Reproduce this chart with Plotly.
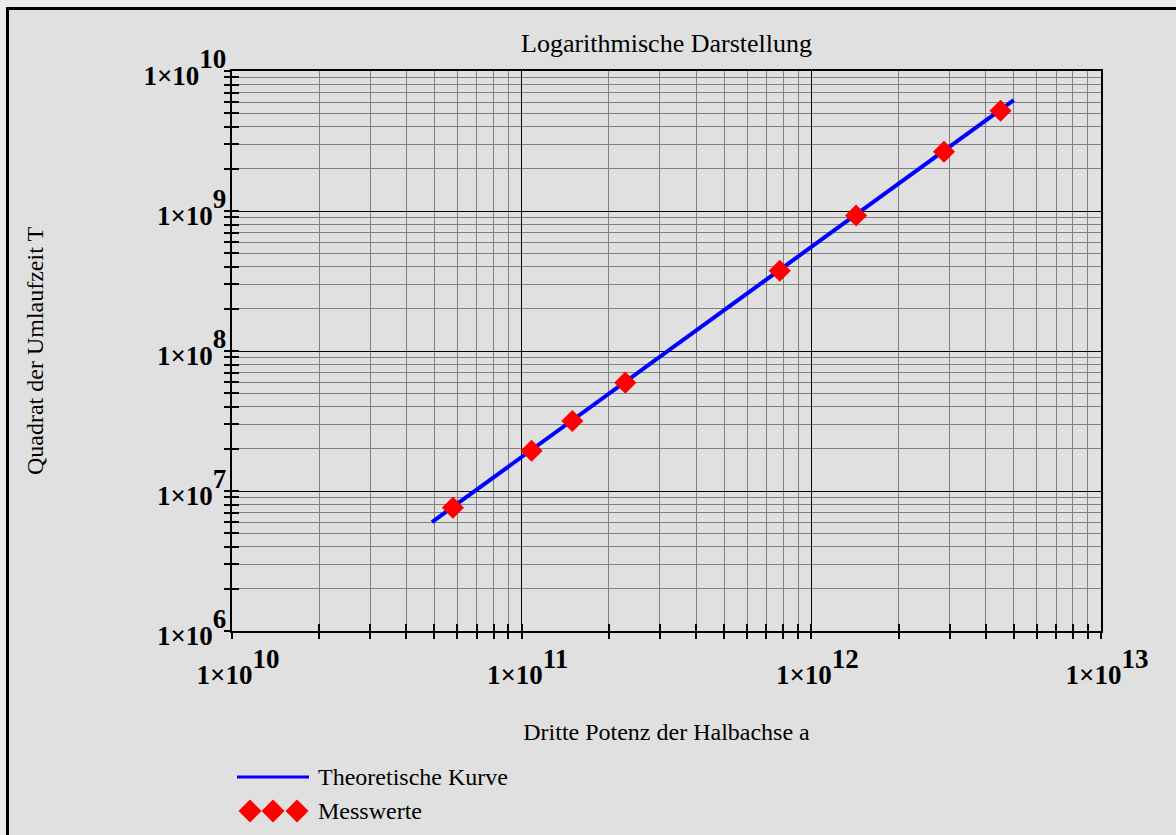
import plotly.graph_objects as go

# Große Halbachse a [m] und Umlaufzeit T [s] der Planeten (Messwerte)
a_mess = [5.79e10, 1.082e11, 1.496e11, 2.279e11, 7.78e11, 1.427e12, 2.87e12, 4.50e12]
T_mess = [7.60e6, 1.94e7, 3.16e7, 5.94e7, 3.74e8, 9.29e8, 2.65e9, 5.20e9]

# Theoretische Kurve (Gerade im doppelt-logarithmischen Diagramm): Endpunkte
a_theo = [4.9e10, 5.0e12]
T_theo = [6.0e6, 6.2e9]

# Achsenbeschriftung (Mantisse und Exponent)
x_ticks = [1e10, 1e11, 1e12, 1e13]
x_exp = ["10", "11", "12", "13"]
y_ticks = [1e6, 1e7, 1e8, 1e9, 1e10]
y_exp = ["6", "7", "8", "9", "10"]
x_minor = [k * 10.0 ** e for e in range(10, 13) for k in range(2, 10)]
y_minor = [k * 10.0 ** e for e in range(6, 10) for k in range(2, 10)]

FONT = "Liberation Serif"
BG = "#e0e0e0"
TICK_PX = 27  # Schriftgröße von Mantisse und Exponent


def power_label(exp):
    # Exponent in gleicher Größe wie die Mantisse, hochgestellt
    return f'<span style="font-size:{TICK_PX}px">1×10</span><sup>{exp}</sup>'


x_ticktext = [power_label(e) for e in x_exp]
y_ticktext = [power_label(e) for e in y_exp]

# Plotbereich in Pixeln
W, H = 1176, 835
L, R, T, B = 232, 1101, 71, 631
PW, PH = R - L, B - T


def px(xp):
    return (xp - L) / PW


def py(yp):
    return (B - yp) / PH


fig = go.Figure()

fig.add_trace(go.Scatter(
    x=a_theo, y=T_theo, mode="lines",
    line=dict(color="#0000ff", width=4),
    name="Theoretische Kurve", showlegend=False,
))
fig.add_trace(go.Scatter(
    x=a_mess, y=T_mess, mode="markers",
    marker=dict(symbol="diamond", size=17, color="#ff0000", line=dict(width=0)),
    name="Messwerte", showlegend=False,
))
# leere Spur für die zweite (überlagerte) Achse mit den äußeren Tickstrichen
fig.add_trace(go.Scatter(x=[], y=[], xaxis="x2", yaxis="y2", showlegend=False))

tick_font = dict(family=FONT, size=TICK_PX / 0.7, color="black", weight="bold")
label_font = dict(family=FONT, size=24, color="black")

common = dict(
    type="log", showline=True, linecolor="black", linewidth=2, mirror=True,
    ticks="inside", ticklen=7, tickwidth=2, tickcolor="black",
    showgrid=True, gridcolor="#000000", gridwidth=1,
    tickfont=tick_font, automargin=False, zeroline=False,
)

fig.update_layout(
    width=W, height=H,
    margin=dict(l=L, r=W - R, t=T, b=H - B, autoexpand=False),
    paper_bgcolor=BG, plot_bgcolor=BG,
    showlegend=False,
    title=dict(
        text="Logarithmische Darstellung",
        font=dict(family=FONT, size=26, color="black"),
        x=0.5, xref="paper", xanchor="center",
        y=1 - 43 / H, yref="container", yanchor="middle",
    ),
    xaxis=dict(
        **common, range=[10, 13],
        tickvals=x_ticks, ticktext=x_ticktext,
        ticklabelstandoff=5, ticklabelshift=6,
        minor=dict(tickvals=x_minor, ticks="inside", ticklen=7, tickwidth=2,
                   tickcolor="black", showgrid=True, gridcolor="#808080", gridwidth=1),
        title=dict(text="Dritte Potenz der Halbachse a", font=label_font, standoff=34),
    ),
    yaxis=dict(
        **common, range=[6, 10],
        tickvals=y_ticks, ticktext=y_ticktext, ticklabelstandoff=-4,
        minor=dict(tickvals=y_minor, ticks="inside", ticklen=7, tickwidth=2,
                   tickcolor="black", showgrid=True, gridcolor="#808080", gridwidth=1),
        title=dict(text="Quadrat der Umlaufzeit T", font=label_font, standoff=93),
    ),
    xaxis2=dict(
        type="log", range=[10, 13], overlaying="x", anchor="y2", side="bottom",
        showline=False, showgrid=False, zeroline=False, showticklabels=False,
        tickvals=x_ticks, ticks="outside", ticklen=7, tickwidth=2, tickcolor="black",
        minor=dict(tickvals=x_minor, ticks="outside", ticklen=7, tickwidth=2,
                   tickcolor="black", showgrid=False),
        automargin=False,
    ),
    yaxis2=dict(
        type="log", range=[6, 10], overlaying="y", anchor="x2", side="left",
        showline=False, showgrid=False, zeroline=False, showticklabels=False,
        tickvals=y_ticks, ticks="outside", ticklen=7, tickwidth=2, tickcolor="black",
        minor=dict(tickvals=y_minor, ticks="outside", ticklen=7, tickwidth=2,
                   tickcolor="black", showgrid=False),
        automargin=False,
    ),
)

shapes = []
# heller Rand außerhalb des Rahmens
shapes.append(dict(type="rect", xref="paper", yref="paper", layer="below",
                   x0=px(0), x1=px(W), y0=py(0), y1=py(7),
                   fillcolor="#ececec", line=dict(width=0)))
shapes.append(dict(type="rect", xref="paper", yref="paper", layer="below",
                   x0=px(0), x1=px(6), y0=py(0), y1=py(H),
                   fillcolor="#ececec", line=dict(width=0)))
# schwarzer Rahmen oben und links
shapes.append(dict(type="line", xref="paper", yref="paper",
                   x0=px(6), x1=px(W), y0=py(8.5), y1=py(8.5),
                   line=dict(color="black", width=3)))
shapes.append(dict(type="line", xref="paper", yref="paper",
                   x0=px(7.5), x1=px(7.5), y0=py(7), y1=py(H),
                   line=dict(color="black", width=3)))

# Legende: Linienmuster
shapes.append(dict(type="line", xref="paper", yref="paper",
                   x0=px(237), x1=px(309), y0=py(777), y1=py(777),
                   line=dict(color="#0000ff", width=3)))
# Legende: drei Rauten
for cx in (250, 273, 297):
    shapes.append(dict(type="path", xref="paper", yref="paper",
                       xsizemode="pixel", ysizemode="pixel",
                       xanchor=px(cx), yanchor=py(811),
                       path="M0,11.5 L11.5,0 L0,-11.5 L-11.5,0 Z",
                       fillcolor="#ff0000", line=dict(width=0)))
fig.update_layout(shapes=shapes)

fig.add_annotation(text="Theoretische Kurve", xref="paper", yref="paper",
                   x=px(316), y=py(777), xanchor="left", yanchor="middle",
                   showarrow=False, font=label_font)
fig.add_annotation(text="Messwerte", xref="paper", yref="paper",
                   x=px(316), y=py(811), xanchor="left", yanchor="middle",
                   showarrow=False, font=label_font)

fig.write_html("out.html")
